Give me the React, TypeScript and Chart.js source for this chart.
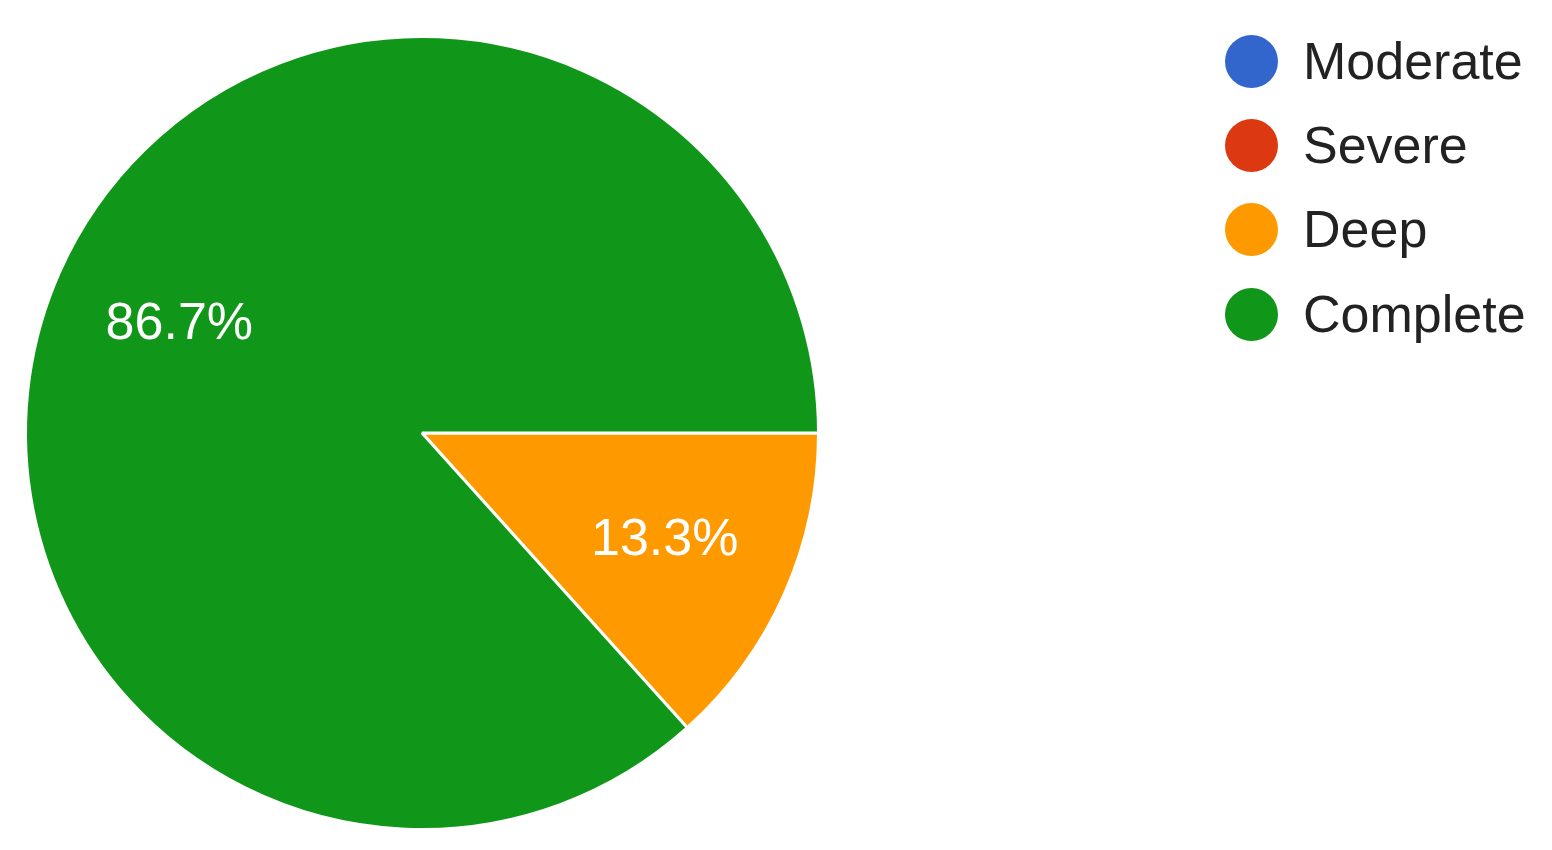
import React, { useEffect, useRef } from "react";
import { Chart, registerables } from "chart.js";

Chart.register(...registerables);

const categories = ["Moderate", "Severe", "Deep", "Complete"];
const counts = [0, 0, 2, 13];
const colors = ["#3366cc", "#dc3912", "#ff9900", "#109618"];

const FONT = "'Liberation Sans', Arial, sans-serif";

const pctLabels = {
  id: "pctLabels",
  afterDatasetsDraw(chart: any) {
    const ctx = chart.ctx;
    const meta = chart.getDatasetMeta(0);
    const data = chart.data.datasets[0].data as number[];
    const total = data.reduce((a, b) => a + b, 0);
    ctx.save();
    ctx.fillStyle = "#ffffff";
    ctx.font = `52px ${FONT}`;
    ctx.textAlign = "center";
    ctx.textBaseline = "middle";
    meta.data.forEach((arc: any, i: number) => {
      const v = data[i];
      if (!v) return;
      const { x, y, startAngle, endAngle, outerRadius } = arc.getProps(
        ["x", "y", "startAngle", "endAngle", "outerRadius"],
        true
      );
      const mid = (startAngle + endAngle) / 2;
      const r = outerRadius * 0.67;
      const label = ((v / total) * 100).toFixed(1) + "%";
      ctx.fillText(label, x + Math.cos(mid) * r, y + Math.sin(mid) * r);
    });
    ctx.restore();
  },
};

export default function App() {
  const ref = useRef<HTMLCanvasElement>(null);

  useEffect(() => {
    if (!ref.current) return;
    const chart = new Chart(ref.current, {
      type: "pie",
      data: {
        labels: categories,
        datasets: [
          {
            data: counts,
            backgroundColor: colors,
            borderColor: "#ffffff",
            borderWidth: 3,
            hoverOffset: 0,
          },
        ],
      },
      options: {
        responsive: false,
        animation: false,
        rotation: 90,
        layout: { padding: { left: 24, top: 35, right: 732, bottom: 19 } },
        plugins: {
          legend: { display: false },
          tooltip: { enabled: false },
        },
      },
      plugins: [pctLabels],
    });
    return () => chart.destroy();
  }, []);

  const rowTops = [61, 145, 229, 314];

  return (
    <div
      style={{
        position: "absolute",
        left: 0,
        top: 0,
        width: 1552,
        height: 850,
        background: "#ffffff",
      }}
    >
      <canvas ref={ref} width={1552} height={850} style={{ width: 1552, height: 850, display: "block" }} />
      {categories.map((c, i) => (
        <div
          key={c}
          style={{
            position: "absolute",
            left: 1225,
            top: rowTops[i] - 27,
            height: 54,
            display: "flex",
            alignItems: "center",
            whiteSpace: "nowrap",
          }}
        >
          <div
            style={{
              width: 53,
              height: 53,
              borderRadius: "50%",
              background: colors[i],
              flex: "0 0 auto",
            }}
          />
          <span
            style={{
              marginLeft: 25,
              fontFamily: FONT,
              fontSize: 52,
              color: "#222222",
              lineHeight: "54px",
            }}
          >
            {c}
          </span>
        </div>
      ))}
    </div>
  );
}
